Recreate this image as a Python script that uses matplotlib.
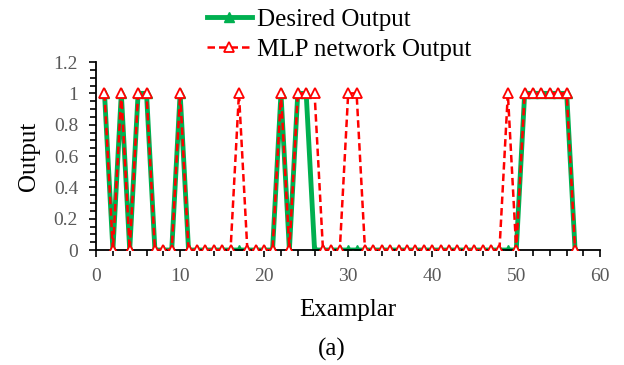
import matplotlib
matplotlib.use("Agg")
import matplotlib.pyplot as plt
from matplotlib.ticker import MultipleLocator

plt.rcParams['font.family'] = ['Liberation Serif', 'DejaVu Serif']

# exemplar index 1..57
exemplar = list(range(1, 58))
desired = [1, 0, 1, 0, 1, 1, 0, 0, 0, 1,
           0, 0, 0, 0, 0, 0, 0, 0, 0, 0,
           0, 1, 0, 1, 1, 0, 0, 0, 0, 0,
           0, 0, 0, 0, 0, 0, 0, 0, 0, 0,
           0, 0, 0, 0, 0, 0, 0, 0, 0, 0,
           1, 1, 1, 1, 1, 1, 0]
mlp = [1, 0, 1, 0, 1, 1, 0, 0, 0, 1,
       0, 0, 0, 0, 0, 0, 1, 0, 0, 0,
       0, 1, 0, 1, 1, 1, 0, 0, 0, 1,
       1, 0, 0, 0, 0, 0, 0, 0, 0, 0,
       0, 0, 0, 0, 0, 0, 0, 0, 1, 0,
       1, 1, 1, 1, 1, 1, 0]
yticks = [0, 0.2, 0.4, 0.6, 0.8, 1, 1.2]
ytick_labels = ['0', '0.2', '0.4', '0.6', '0.8', '1', '1.2']

green = '#00B050'
red = '#FF0000'
grey = '#595959'

fig = plt.figure(figsize=(6.24, 3.65), dpi=100)
ax = fig.add_axes([0.154, 0.315, 0.808, 0.515])

ax.plot(exemplar, desired, color=green, lw=3.5, marker='^', ms=6.5,
        mfc=green, mec=green, label='Desired Output', zorder=2)
ax.plot(exemplar, mlp, color=red, lw=1.8, ls=(0, (3, 1.6)), marker='^', ms=6.5,
        mfc='white', mec=red, mew=1.3, label='MLP network Output', zorder=3)

ax.set_xlim(0, 60)
ax.set_ylim(0, 1.2)
ax.xaxis.set_major_locator(MultipleLocator(10))
ax.xaxis.set_minor_locator(MultipleLocator(2))
ax.yaxis.set_minor_locator(MultipleLocator(0.05))
ax.set_yticks(yticks)
ax.set_yticklabels(ytick_labels)
ax.tick_params(which='major', direction='out', length=5, width=1.2,
               labelsize=14, labelcolor=grey, color='black', pad=8)
ax.tick_params(which='minor', direction='out', length=4, width=1.2, color='black')
for s in ['top', 'right']:
    ax.spines[s].set_visible(False)
for s in ['left', 'bottom']:
    ax.spines[s].set_color('black')
    ax.spines[s].set_linewidth(1.3)

ax.set_xlabel('Examplar', fontsize=18, labelpad=10)
ax.set_ylabel('Output', fontsize=18, labelpad=10)

fig.legend(loc='upper center', bbox_to_anchor=(0.543, 0.99), frameon=False,
           fontsize=18, handlelength=1.8, handletextpad=0.2,
           borderaxespad=0.1, borderpad=0.1, labelspacing=0.3)

fig.text(0.532, 0.025, '(a)', ha='center', fontsize=18)

fig.savefig('out.png', dpi=100)
